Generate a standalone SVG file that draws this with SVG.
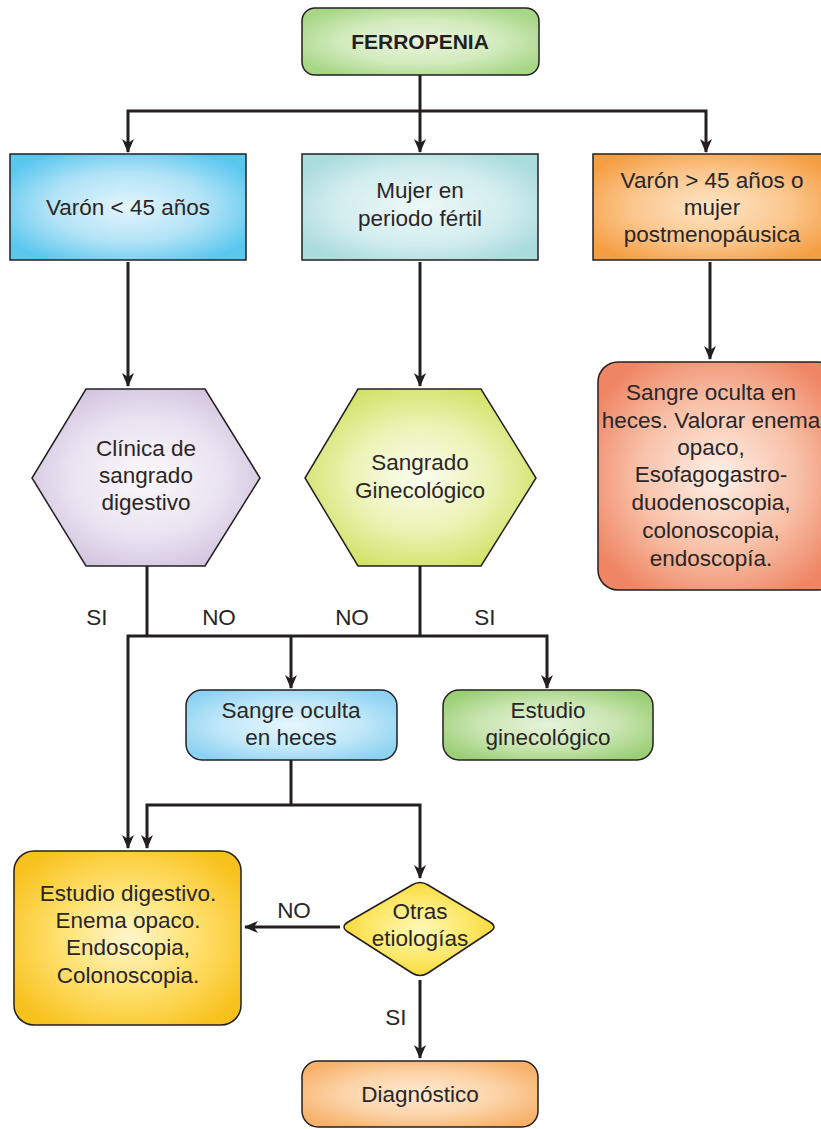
<svg xmlns="http://www.w3.org/2000/svg" width="821" height="1129" viewBox="0 0 821 1129">
  <style>
    .node { stroke: #231f20; stroke-width: 1.5; }
    .lbl { font-family: "Liberation Sans", Arial, sans-serif; font-size: 22.5px; fill: #2a2627; text-anchor: middle; }
    .title { font-family: "Liberation Sans", Arial, sans-serif; font-size: 21px; font-weight: bold; fill: #231f20; text-anchor: middle; }
    .edge { fill: none; stroke: #231f20; stroke-width: 3; }
    .arrow { fill: none; stroke: #231f20; stroke-width: 3; marker-end: url(#head); }
  </style>
  <defs>
    <marker id="head" viewBox="0 0 14 12" refX="13" refY="6" markerWidth="14" markerHeight="12" markerUnits="userSpaceOnUse" orient="auto-start-reverse">
      <path d="M0,0 L14,6 L0,12 L4,6 Z" fill="#231f20"/>
    </marker>
    <radialGradient id="gGreen" cx="0.5" cy="0.5" r="0.6">
      <stop offset="0" stop-color="#e8f4dd"/><stop offset="0.55" stop-color="#d2ebbd"/><stop offset="1" stop-color="#a6d686"/>
    </radialGradient>
    <radialGradient id="gBlue" cx="0.5" cy="0.5" r="0.6">
      <stop offset="0" stop-color="#e4f5fc"/><stop offset="0.55" stop-color="#b2e3f7"/><stop offset="1" stop-color="#5ac7ef"/>
    </radialGradient>
    <radialGradient id="gTeal" cx="0.5" cy="0.5" r="0.6">
      <stop offset="0" stop-color="#eef8f8"/><stop offset="0.6" stop-color="#d2edee"/><stop offset="1" stop-color="#aadbdd"/>
    </radialGradient>
    <radialGradient id="gOrange" cx="0.5" cy="0.5" r="0.6">
      <stop offset="0" stop-color="#fde6c8"/><stop offset="0.55" stop-color="#fbc78e"/><stop offset="1" stop-color="#f59f45"/>
    </radialGradient>
    <radialGradient id="gLilac" cx="0.5" cy="0.5" r="0.55">
      <stop offset="0" stop-color="#fbf9fc"/><stop offset="0.6" stop-color="#ebe3f1"/><stop offset="1" stop-color="#d3c5e0"/>
    </radialGradient>
    <radialGradient id="gLime" cx="0.5" cy="0.5" r="0.55">
      <stop offset="0" stop-color="#fbfdf0"/><stop offset="0.55" stop-color="#ebf3b4"/><stop offset="1" stop-color="#d1e267"/>
    </radialGradient>
    <radialGradient id="gSalmon" cx="0.5" cy="0.5" r="0.6">
      <stop offset="0" stop-color="#fef0e8"/><stop offset="0.55" stop-color="#f8c1a8"/><stop offset="1" stop-color="#ef8563"/>
    </radialGradient>
    <radialGradient id="gSky" cx="0.5" cy="0.5" r="0.6">
      <stop offset="0" stop-color="#e6f6fd"/><stop offset="0.55" stop-color="#c1e8f9"/><stop offset="1" stop-color="#8dd2f2"/>
    </radialGradient>
    <radialGradient id="gLeaf" cx="0.5" cy="0.5" r="0.6">
      <stop offset="0" stop-color="#e6f3da"/><stop offset="0.55" stop-color="#c9e5b1"/><stop offset="1" stop-color="#9bcf76"/>
    </radialGradient>
    <radialGradient id="gGold" cx="0.5" cy="0.5" r="0.6">
      <stop offset="0" stop-color="#fff6cc"/><stop offset="0.5" stop-color="#ffe170"/><stop offset="1" stop-color="#f8c21e"/>
    </radialGradient>
    <radialGradient id="gYellow" cx="0.5" cy="0.5" r="0.55">
      <stop offset="0" stop-color="#fff8b8"/><stop offset="0.6" stop-color="#fce868"/><stop offset="1" stop-color="#f7d631"/>
    </radialGradient>
    <radialGradient id="gPeach" cx="0.5" cy="0.5" r="0.6">
      <stop offset="0" stop-color="#feead6"/><stop offset="0.55" stop-color="#fcd3a7"/><stop offset="1" stop-color="#f7b16a"/>
    </radialGradient>
  </defs>

  <!-- connectors -->
  <g id="connectors">
    <path class="arrow" d="M420,75 V152"/>
    <path class="arrow" d="M128,152 V111 H706 V152" style="marker-start:url(#head)"/>
    <path class="arrow" d="M128,262 V386"/>
    <path class="arrow" d="M420,262 V386"/>
    <path class="arrow" d="M710,262 V359"/>
    <path class="edge" d="M147,566 V636"/>
    <path class="edge" d="M420,566 V636"/>
    <path class="arrow" d="M128,848 V636 H547 V688" style="marker-start:url(#head)"/>
    <path class="arrow" d="M291,636 V688"/>
    <path class="edge" d="M291,760 V805"/>
    <path class="arrow" d="M147,848 V805 H420 V878" style="marker-start:url(#head)"/>
    <path class="arrow" d="M340,927 H245"/>
    <path class="arrow" d="M420,980 V1058"/>
    <text class="lbl" x="97" y="625">SI</text>
    <text class="lbl" x="219" y="625">NO</text>
    <text class="lbl" x="352" y="625">NO</text>
    <text class="lbl" x="485" y="625">SI</text>
    <text class="lbl" x="294" y="918">NO</text>
    <text class="lbl" x="396" y="1025">SI</text>
  </g>

  <g id="ferropenia">
    <rect class="node" x="302" y="8" width="237" height="67" rx="13" fill="url(#gGreen)"/>
    <text class="title" x="420" y="49">FERROPENIA</text>
  </g>

  <g id="varon-menor">
    <rect class="node" x="10" y="154" width="236" height="106" fill="url(#gBlue)"/>
    <text class="lbl" x="128" y="215">Varón &lt; 45 años</text>
  </g>

  <g id="mujer-fertil">
    <rect class="node" x="302" y="154" width="236" height="106" fill="url(#gTeal)"/>
    <text class="lbl" x="420" y="198">Mujer en</text>
    <text class="lbl" x="420" y="226">periodo fértil</text>
  </g>

  <g id="varon-mayor">
    <rect class="node" x="593" y="154" width="236" height="106" fill="url(#gOrange)"/>
    <text class="lbl" x="712" y="188">Varón &gt; 45 años o</text>
    <text class="lbl" x="712" y="215">mujer</text>
    <text class="lbl" x="712" y="242">postmenopáusica</text>
  </g>

  <g id="clinica-sangrado">
    <polygon class="node" points="86,389 205,389 260,478 205,566 86,566 32,478" fill="url(#gLilac)"/>
    <text class="lbl" x="146" y="456">Clínica de</text>
    <text class="lbl" x="146" y="483">sangrado</text>
    <text class="lbl" x="146" y="510">digestivo</text>
  </g>

  <g id="sangrado-ginecologico">
    <polygon class="node" points="358,389 481,389 536,478 481,566 358,566 305,478" fill="url(#gLime)"/>
    <text class="lbl" x="420" y="470">Sangrado</text>
    <text class="lbl" x="420" y="498">Ginecológico</text>
  </g>

  <g id="sangre-oculta-valorar">
    <rect class="node" x="598" y="362" width="240" height="228" rx="20" fill="url(#gSalmon)"/>
    <text class="lbl" x="711" y="400">Sangre oculta en</text>
    <text class="lbl" x="711" y="428">heces. Valorar enema</text>
    <text class="lbl" x="711" y="455">opaco,</text>
    <text class="lbl" x="711" y="482">Esofagogastro-</text>
    <text class="lbl" x="711" y="510">duodenoscopia,</text>
    <text class="lbl" x="711" y="538">colonoscopia,</text>
    <text class="lbl" x="711" y="566">endoscopía.</text>
  </g>

  <g id="sangre-oculta-heces">
    <rect class="node" x="186" y="690" width="211" height="70" rx="16" fill="url(#gSky)"/>
    <text class="lbl" x="291" y="718">Sangre oculta</text>
    <text class="lbl" x="291" y="745">en heces</text>
  </g>

  <g id="estudio-ginecologico">
    <rect class="node" x="443" y="690" width="210" height="70" rx="16" fill="url(#gLeaf)"/>
    <text class="lbl" x="548" y="718">Estudio</text>
    <text class="lbl" x="548" y="745">ginecológico</text>
  </g>

  <g id="estudio-digestivo">
    <rect class="node" x="14" y="851" width="227" height="174" rx="20" fill="url(#gGold)"/>
    <text class="lbl" x="128" y="901">Estudio digestivo.</text>
    <text class="lbl" x="128" y="928">Enema opaco.</text>
    <text class="lbl" x="128" y="955">Endoscopia,</text>
    <text class="lbl" x="128" y="983">Colonoscopia.</text>
  </g>

  <g id="otras-etiologias">
    <path class="node" d="M412,885 L348,922 Q340,927 348,932 L412,973 Q420,978 428,973 L490,932 Q498,927 490,922 L428,885 Q420,880 412,885 Z" fill="url(#gYellow)"/>
    <text class="lbl" x="420" y="919">Otras</text>
    <text class="lbl" x="420" y="946">etiologías</text>
  </g>

  <g id="diagnostico">
    <rect class="node" x="302" y="1061" width="236" height="66" rx="16" fill="url(#gPeach)"/>
    <text class="lbl" x="420" y="1102">Diagnóstico</text>
  </g>
</svg>
